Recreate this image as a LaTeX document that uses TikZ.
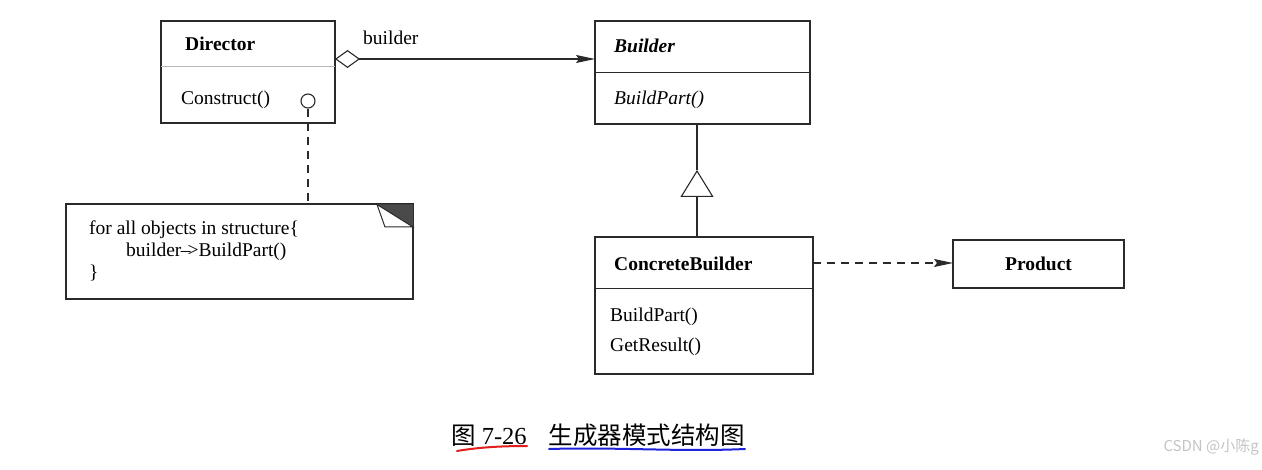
\documentclass[tikz,border=0pt]{standalone}
\usepackage{fontspec}
\setmainfont{Liberation Serif}
\newfontfamily\cjk{Noto Sans CJK SC}
\usetikzlibrary{arrows.meta}
\definecolor{ln}{HTML}{2A2A2A}
\definecolor{redpen}{HTML}{E0201E}
\definecolor{bluepen}{HTML}{1E22D8}
\definecolor{wmgray}{HTML}{C4C4C4}
\tikzset{
  classbox/.style={draw=ln, line width=1.2pt, inner sep=0pt, outer sep=0pt},
  divider/.style={draw=ln, line width=1pt},
  lbl/.style={anchor=base west, inner sep=0pt, font=\fontsize{19.5}{23}\selectfont},
  dep/.style={draw=ln, line width=1.1pt, dash pattern=on 8pt off 6pt},
  assoc/.style={draw=ln, line width=1.1pt},
}
\begin{document}
\begin{tikzpicture}[x=1pt,y=-1pt]
\useasboundingbox[fill=white] (0,0) rectangle (1262,470);

% boxes
\node[classbox, minimum width=174pt, minimum height=102pt] (dir) at (248,72) {};
\node[classbox, minimum width=215pt, minimum height=103pt] (bld) at (702.5,72.5) {};
\node[classbox, minimum width=218pt, minimum height=137pt] (cb) at (704,305.5) {};
\node[classbox, minimum width=171pt, minimum height=48pt] (prod) at (1038.5,264) {};
\node[classbox, minimum width=347pt, minimum height=95pt] (note) at (239.5,251.5) {};

% dividers
\draw[draw=gray!55, line width=0.7pt] (161,66) -- (335,66);
\draw[divider] (595,73) -- (810,73);
\draw[divider] (595,289) -- (813,289);

% note folded corner
\fill[ln!85] (377,204.5) -- (413,204.5) -- (413,227) -- cycle;
\filldraw[fill=white, draw=ln, line width=1pt] (377,204.5) -- (385,227) -- (413,227) -- cycle;

% texts
\node[lbl, font=\fontsize{19.5}{23}\selectfont\bfseries] (tdir) at (185,50.5) {Director};
\node[lbl] (tcons) at (181,104.5) {Construct()};
\node[lbl] (tbl) at (363,44.5) {builder};
\node[lbl, font=\fontsize{19.5}{23}\selectfont\bfseries\itshape] (tbld) at (614,52.5) {Builder};
\node[lbl, font=\fontsize{19.5}{23}\selectfont\itshape] (tbp) at (614,104.5) {BuildPart()};
\node[lbl, font=\fontsize{19.5}{23}\selectfont\bfseries] (tcb) at (614,270.5) {ConcreteBuilder};
\node[lbl] (tcbp) at (610,321.5) {BuildPart()};
\node[lbl] (tgr) at (610,351.5) {GetResult()};
\node[inner sep=0pt, font=\fontsize{19.5}{23}\selectfont\bfseries] (tprod) at (1038.5,264) {Product};
\node[lbl] (n1) at (89,234.5) {for all objects in structure\{};
\node[lbl] (n2) at (126,256.5) {builder{\kern-0.5pt}--{\kern-3pt}>BuildPart()};
\node[lbl] (n3) at (89,278.5) {\}};

% circle and dashed note link
\node[draw=ln, line width=1.1pt, circle, minimum size=14pt, inner sep=0pt, fill=white] (circ) at (308,101) {};
\draw[dep] (circ.south) -- (circ.south |- note.north);

% association builder
\coordinate (a1) at (335,59);
\coordinate (a2) at (595,59);
\draw[assoc, {Diamond[open,length=25pt,width=18pt,line width=1.1pt]}-{Stealth[length=19pt,width=8pt,inset=3pt]}] (a1) -- (a2);

% generalization
\coordinate (g1) at (697,237);
\coordinate (gapex) at (697,170);
\coordinate (g2) at (697,124);
\draw[assoc, -{Triangle[open,length=27pt,width=33pt,line width=1.1pt]}] (g1) -- (gapex);
\draw[assoc] (gapex) -- (g2);

% dependency to product
\coordinate (d1) at (813,263);
\draw[dep, -{Stealth[length=19pt,width=8pt,inset=3pt]}] (d1) -- (prod.west |- d1);

% caption
\node[anchor=west, inner sep=0pt, font=\fontsize{24.5}{28}\selectfont] (cap) at (451,435) {{\cjk 图} 7-26\hspace{22pt}{\cjk 生成器模式结构图}};
\draw[redpen, line width=2pt, line cap=round] (457,451) .. controls (480,447) and (505,446) .. (527,446);
\draw[bluepen, line width=2pt, line cap=round] (549,449) .. controls (620,447) and (680,452) .. (745,449);

% watermark
\node[anchor=east, inner sep=0pt, text=wmgray, font=\cjk\fontsize{15}{18}\selectfont] (wm) at (1259,447) {CSDN @小陈g};
\end{tikzpicture}
\end{document}
